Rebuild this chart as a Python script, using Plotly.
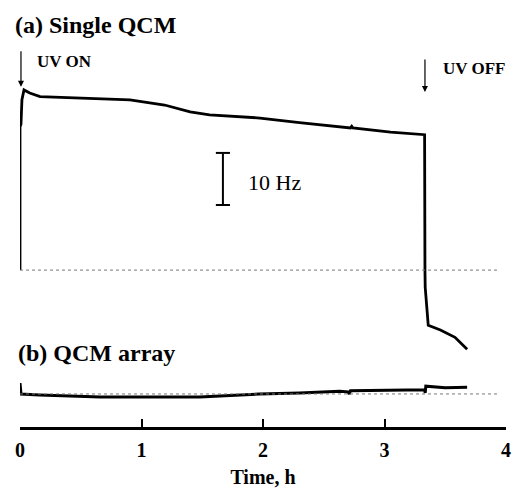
import plotly.graph_objects as go

# ---- data (time in hours, frequency shift in Hz) ----
t_single = [0.0, 0.0, 0.008, 0.016, 0.033, 0.08, 0.165, 0.41, 0.905, 1.19, 1.40, 1.56,
            1.975, 2.30, 2.72, 2.73, 2.74, 3.05, 3.33, 3.333, 3.335, 3.36, 3.46, 3.58, 3.68]
f_single = [0.0, 27.5, 28.0, 32.7, 34.6, 34.0, 33.3, 33.1, 32.7, 31.7, 30.4, 29.8,
            29.2, 28.3, 27.3, 27.6, 27.3, 26.5, 26.0, 0.0, -3.3, -10.6, -11.5, -12.9, -15.2]

t_array = [0.0, 0.004, 0.008, 0.16, 0.66, 1.48, 1.81, 1.97, 2.30, 2.63, 2.70, 2.71, 2.72,
           3.30, 3.33, 3.335, 3.34, 3.50, 3.68]
f_array = [2.1, 0.3, 0.0, -0.2, -0.6, -0.6, -0.2, 0.0, 0.2, 0.5, 0.4, 0.0, 0.6,
           0.8, 0.8, 0.2, 1.5, 1.2, 1.3]

x_ticks = [0, 1, 2, 3, 4]
baseline_end = 3.93
scale_bar_hz = 10
scale_bar_t = 1.67
scale_bar_top = 22.5
uv_on_t = 0.008
uv_off_t = 3.333

SERIF = "Liberation Serif"

fig = go.Figure()
fig.add_trace(go.Scatter(x=t_single, y=f_single, mode="lines",
                         line=dict(color="black", width=2.8), yaxis="y", showlegend=False))
fig.add_trace(go.Scatter(x=t_array, y=f_array, mode="lines",
                         line=dict(color="black", width=3), yaxis="y2", showlegend=False))

# dotted baselines
for yr in ["y", "y2"]:
    fig.add_shape(type="line", xref="x", yref=yr, x0=0, x1=baseline_end, y0=0, y1=0,
                  line=dict(color="#777", width=1, dash="dot"))

# 10 Hz scale bar
sb_bottom = scale_bar_top - scale_bar_hz
fig.add_shape(type="line", xref="x", yref="y", x0=scale_bar_t, x1=scale_bar_t,
              y0=sb_bottom, y1=scale_bar_top, line=dict(color="black", width=2))
for yy in [sb_bottom, scale_bar_top]:
    fig.add_shape(type="line", xref="x", yref="y", x0=scale_bar_t - 0.058, x1=scale_bar_t + 0.058,
                  y0=yy, y1=yy, line=dict(color="black", width=2))

ann = []
ann.append(dict(x=scale_bar_t + 0.19, y=(sb_bottom + scale_bar_top) / 2 - 0.6, xref="x", yref="y",
                text="10 Hz", showarrow=False, xanchor="left",
                font=dict(family=SERIF, size=22, color="black")))
# arrows
ann.append(dict(x=uv_on_t, y=35.2, xref="x", yref="y", text="", showarrow=True,
                ax=0, ay=-37, arrowhead=2, arrowsize=1, arrowwidth=1.2, arrowcolor="black"))
ann.append(dict(x=uv_off_t, y=34.2, xref="x", yref="y", text="", showarrow=True,
                ax=0, ay=-34, arrowhead=2, arrowsize=1, arrowwidth=1.2, arrowcolor="black"))
ann.append(dict(x=35, y=61, xref="paper", yref="paper", text="<b>UV ON</b>", showarrow=False,
                xanchor="left", yanchor="middle", font=dict(family=SERIF, size=17, color="black")))
ann.append(dict(x=441, y=68, xref="paper", yref="paper", text="<b>UV OFF</b>", showarrow=False,
                xanchor="left", yanchor="middle", font=dict(family=SERIF, size=17, color="black")))
ann.append(dict(x=13, y=25, xref="paper", yref="paper", text="<b>(a) Single QCM</b>", showarrow=False,
                xanchor="left", yanchor="middle", font=dict(family=SERIF, size=24, color="black")))
ann.append(dict(x=16, y=353, xref="paper", yref="paper", text="<b>(b) QCM array</b>", showarrow=False,
                xanchor="left", yanchor="middle", font=dict(family=SERIF, size=24, color="black")))

# convert pixel positions of the text labels to paper coordinates
H_PLOT = 428.0
W_PLOT = 486.0
L = 20
for a in ann:
    if a["xref"] == "paper":
        a["x"] = (a["x"] - L) / W_PLOT
        a["y"] = (H_PLOT - a["y"]) / H_PLOT

fig.update_layout(
    width=513, height=495,
    margin=dict(l=L, r=513 - L - int(W_PLOT), t=0, b=495 - int(H_PLOT), autoexpand=False),
    paper_bgcolor="white", plot_bgcolor="white",
    annotations=ann,
    xaxis=dict(range=[0, 4], tickvals=x_ticks, ticks="inside", ticklen=8, tickwidth=2,
               tickcolor="black", showline=True, linecolor="black", linewidth=2.5,
               showgrid=False, zeroline=False, anchor="free", position=0, automargin=False,
               ticklabelstandoff=3,
               tickfont=dict(family=SERIF, size=20, color="black", weight="bold"),
               title=dict(text="Time, h", font=dict(family=SERIF, size=20, color="black", weight="bold"),
                          standoff=10)),
    yaxis=dict(domain=[(428 - 355) / 428, (428 - 80) / 428], range=[-16.3, 36.5],
               visible=False, showgrid=False, zeroline=False),
    yaxis2=dict(domain=[(428 - 410) / 428, (428 - 370) / 428], range=[-3.08, 4.6],
                visible=False, showgrid=False, zeroline=False),
)

fig.write_html("out.html", config={"displayModeBar": False},
               post_script="document.body.style.margin='0';")
